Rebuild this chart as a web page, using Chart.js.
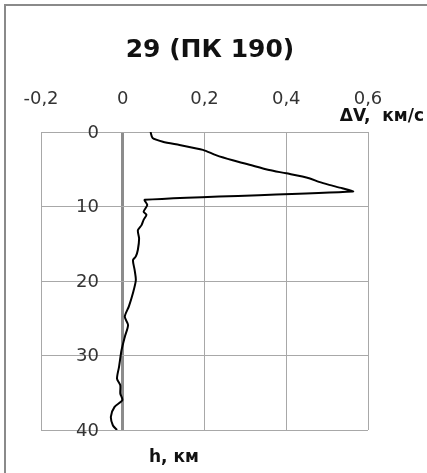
<!DOCTYPE html>
<html>
<head>
<meta charset="utf-8">
<script src="https://cdn.jsdelivr.net/npm/chart.js@4.4.1/dist/chart.umd.min.js"></script>
<style>
  html, body { margin: 0; padding: 0; background: #fff; overflow: hidden; }
  #wrap { position: relative; width: 427px; height: 473px; }
  #frame { position: absolute; left: 4px; top: 4px; width: 600px; height: 600px; border: 2px solid #8a8a8a; box-sizing: border-box; }
  canvas { position: absolute; left: 0; top: 0; }
</style>
</head>
<body>
<div id="wrap">
  <div id="frame"></div>
  <canvas id="chart" width="427" height="473"></canvas>
</div>
<script>
// depth (km) and velocity anomaly (km/s)
const depthKm = [0, 0.8, 1.3, 1.75, 2.4, 3.1, 3.8, 4.4, 5.1, 5.55, 6.2, 6.7, 7.1, 7.55, 8.0,
  9.1, 9.8, 10.7, 11.1, 11.8, 12.5, 13.2, 14.3, 15.8, 16.7, 17.2, 18.5, 19.9, 21.6, 23.4,
  24.8, 25.9, 27.5, 29.3, 31.5, 33.1, 34.0, 35.1, 36.0, 36.9, 38.2, 39.4, 40.0];
const deltaV = [0.068, 0.073, 0.098, 0.139, 0.196, 0.228, 0.269, 0.31, 0.358, 0.40, 0.456, 0.48, 0.505, 0.537, 0.563,
  0.054, 0.06, 0.051, 0.058, 0.051, 0.046, 0.037, 0.04, 0.037, 0.032, 0.025, 0.029, 0.032, 0.025, 0.015,
  0.005, 0.013, 0.005, -0.003, -0.009, -0.014, -0.006, -0.006, -0.001, -0.02, -0.029, -0.024, -0.014];

const xTicks = [-0.2, 0, 0.2, 0.4, 0.6];
const yTicks = [0, 10, 20, 30, 40];

const titleText = "29 (ПК 190)";
const xTitle = "ΔV,  км/с";
const yTitle = "h, км";

const tickFont = { family: "DejaVu Sans", size: 18 };

const fmt = (v) => String(Math.round(v * 10) / 10).replace(".", ",");

const textPlugin = {
  id: "texts",
  afterDraw(chart) {
    const c = chart.ctx;
    const ys = chart.scales.y;
    c.save();
    c.fillStyle = "#333";
    c.font = "18px 'DejaVu Sans'";
    c.textAlign = "right";
    c.textBaseline = "middle";
    ys.ticks.forEach((t) => {
      c.fillText(String(t.value), 99, ys.getPixelForValue(t.value) + 1);
    });

    c.fillStyle = "#111";
    c.font = "bold 25px 'DejaVu Sans'";
    c.textAlign = "center";
    c.textBaseline = "middle";
    c.fillText(titleText, 210, 50);

    c.font = "bold 17px 'DejaVu Sans'";
    c.textAlign = "right";
    c.fillText(xTitle, 424, 117);

    c.textAlign = "left";
    c.fillText(yTitle, 149, 458);
    c.restore();
  },
};

new Chart(document.getElementById("chart"), {
  type: "scatter",
  data: {
    datasets: [
      {
        data: depthKm.map((h, i) => ({ x: deltaV[i], y: h })),
        showLine: true,
        borderColor: "#000",
        borderWidth: 2,
        pointRadius: 0,
        tension: 0.25,
      },
    ],
  },
  options: {
    responsive: false,
    animation: false,
    layout: { padding: { left: 41, right: 59, top: 72, bottom: 43 } },
    plugins: { legend: { display: false }, tooltip: { enabled: false } },
    scales: {
      x: {
        type: "linear",
        position: "top",
        min: -0.2,
        max: 0.6,
        afterBuildTicks: (s) => { s.ticks = xTicks.map((v) => ({ value: v })); },
        afterFit: (s) => { s.height = 60; },
        grid: {
          drawTicks: false,
          color: (ctx) => (ctx.tick && ctx.tick.value === 0 ? "#8c8c8c" : "#a8a8a8"),
          lineWidth: (ctx) => (ctx.tick && ctx.tick.value === 0 ? 3 : 1),
        },
        border: { display: false },
        ticks: {
          padding: 22,
          color: "#333",
          font: tickFont,
          callback: (v) => fmt(v),
        },
      },
      y: {
        type: "linear",
        reverse: true,
        min: 0,
        max: 40,
        afterBuildTicks: (s) => { s.ticks = yTicks.map((v) => ({ value: v })); },
        afterFit: (s) => { s.width = 0; },
        grid: { drawTicks: false, color: "#a8a8a8", lineWidth: 1 },
        border: { display: false },
        ticks: { display: false },
      },
    },
  },
  plugins: [textPlugin],
});
</script>
</body>
</html>
